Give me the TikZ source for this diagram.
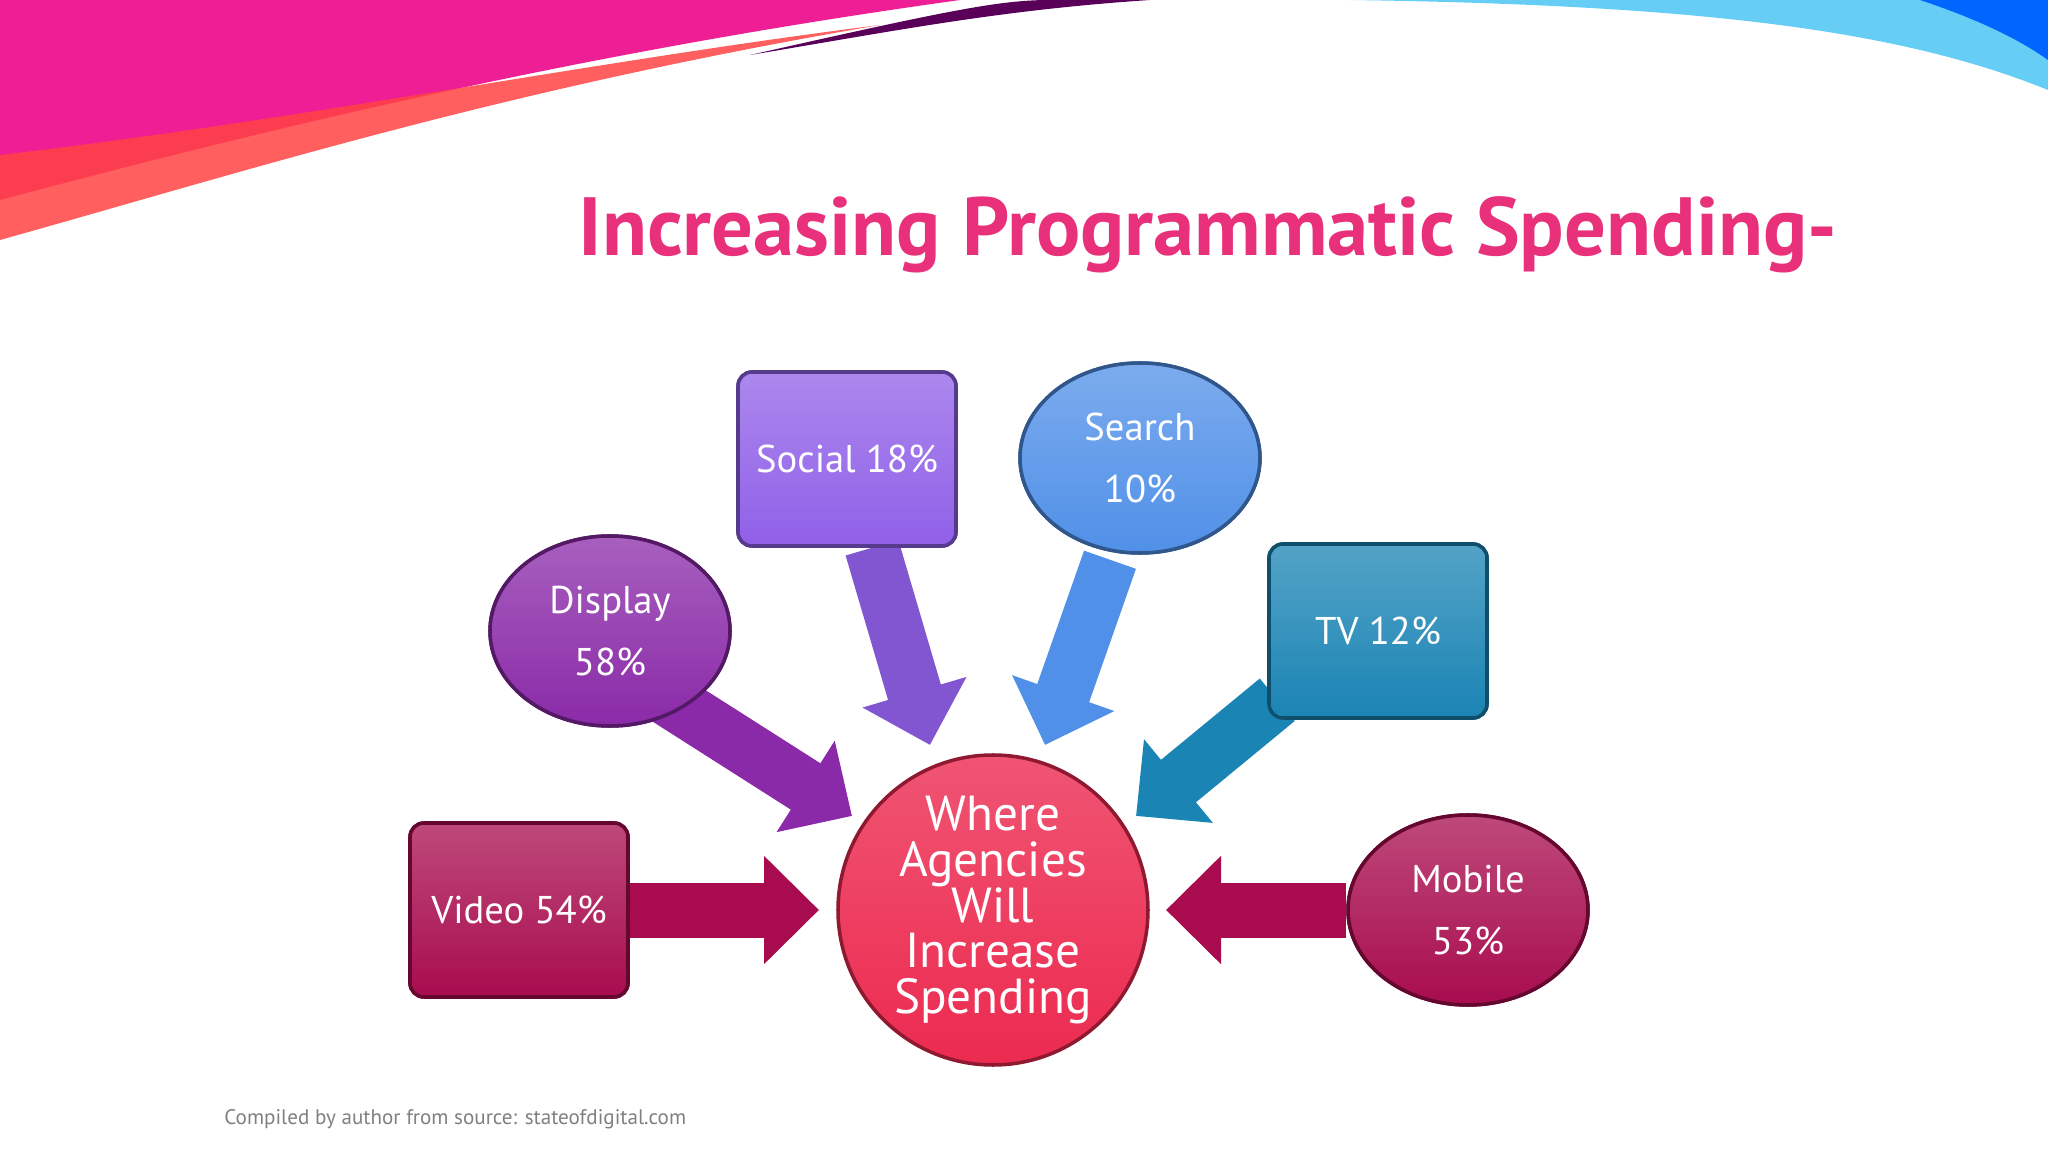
\documentclass[tikz,border=0pt]{standalone}
\usepackage{fontspec}
\setmainfont{PT Sans}
\usetikzlibrary{arrows.meta,shapes.geometric,calc}
\definecolor{ttl}{HTML}{E8317A}
\definecolor{cSoc}{HTML}{9060E8}
\definecolor{cSea}{HTML}{5090E8}
\definecolor{cDis}{HTML}{8A2AA8}
\definecolor{cTV}{HTML}{1A84B4}
\definecolor{cVid}{HTML}{A80C4E}
\definecolor{cCtr}{HTML}{EC2A50}
\tikzset{
 box/.style={rounded corners=4pt, minimum width=2.18cm, minimum height=1.74cm, draw=#1!60!black, line width=1pt, top color=#1!75!white, bottom color=#1, text=white, font=\fontsize{11}{13}\selectfont, align=center},
 oval/.style={ellipse, minimum width=2.4cm, minimum height=1.9cm, draw=#1!60!black, line width=1pt, top color=#1!75!white, bottom color=#1, text=white, font=\fontsize{11}{17.5}\selectfont, align=center},
 barrow/.style={line width=5.5mm, draw=#1, -{Triangle[length=5.5mm 0 0, width=10.5mm 0 0, fill=#1]}},
}
\begin{document}
\begin{tikzpicture}[x=1cm,y=-1cm]
\useasboundingbox (0,0) rectangle (20.48,11.52);
% ribbons
\fill[magenta!85!pink] (0,0) -- (9.6,0) .. controls (6,0.5) and (3,1.2) .. (0,2.0) -- cycle;
\fill[red!65!pink,opacity=0.85] (0,1.55) .. controls (3,1.2) and (6,0.6) .. (8.8,0.25) .. controls (5,0.9) and (2.5,1.7) .. (0,2.4) -- cycle;
\fill[violet!70!black] (7.5,0.55) .. controls (9.5,0.1) and (10,0) .. (10.5,0) -- (11.5,0) .. controls (10,0.1) and (9,0.3) .. (7.5,0.55) -- cycle;
\fill[cyan!60!white] (13.5,0) .. controls (17,0.05) and (19,0.3) .. (20.48,0.9) -- (20.48,0) -- cycle;
\fill[blue!60!cyan] (19.2,0) .. controls (19.8,0.2) and (20.2,0.4) .. (20.48,0.6) -- (20.48,0) -- cycle;
% title
\node[text=ttl, font=\bfseries\fontsize{23.5}{28}\selectfont] (title) at (12.08,2.35) {Increasing Programmatic Spending-};
% nodes
\node[circle, minimum size=3.1cm, inner sep=0pt, draw=cCtr!60!black, line width=1pt, top color=cCtr!80!white, bottom color=cCtr, text=white, align=center, font=\fontsize{14}{13}\selectfont] (ctr) at (9.93,9.1) {Where\\Agencies\\Will\\Increase\\Spending};
\node[box=cSoc] (soc) at (8.47,4.59) {Social 18\%};
\node[oval=cSea] (sea) at (11.40,4.58) {Search\\10\%};
\node[oval=cDis] (dis) at (6.10,6.31) {Display\\58\%};
\node[box=cTV] (tv) at (13.78,6.31) {TV 12\%};
\node[box=cVid] (vid) at (5.19,9.10) {Video 54\%};
\node[oval=cVid] (mob) at (14.68,9.10) {Mobile\\53\%};
% arrow tips
\coordinate (tSoc) at (9.30,7.45);
\coordinate (tSea) at (10.45,7.45);
\coordinate (tDis) at (8.52,8.16);
\coordinate (tTV) at (11.36,8.16);
\coordinate (tVid) at (8.19,9.10);
\coordinate (tMob) at (11.66,9.10);
\draw[barrow=cVid] (vid.east) -- (tVid);
\draw[barrow=cVid] (mob.west) -- (tMob);
\draw[barrow=cSoc!90!black] ($(soc.south)+(0.25,0)$) -- (tSoc);
\draw[barrow=cSea] ($(sea.south)+(-0.3,0.05)$) -- (tSea);
\draw[barrow=cDis] ($(dis.south east)+(-0.35,-0.05)$) -- (tDis);
\draw[barrow=cTV] ($(tv.south west)+(0.1,-0.2)$) -- (tTV);
\node[box=cVid] at (vid) {Video 54\%};
\node[oval=cVid] at (mob) {Mobile\\53\%};
\node[box=cSoc] at (soc) {Social 18\%};
\node[oval=cSea] at (sea) {Search\\10\%};
\node[oval=cDis] at (dis) {Display\\58\%};
\node[box=cTV] at (tv) {TV 12\%};
\node[anchor=west, text=gray, font=\fontsize{6}{7}\selectfont] (src) at (2.12,11.19) {Compiled by author from source: stateofdigital.com};
\end{tikzpicture}
\end{document}
